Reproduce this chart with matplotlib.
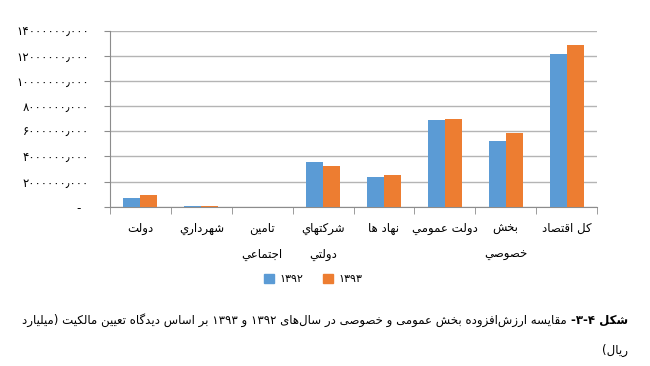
import re
import matplotlib
matplotlib.use('Agg')
import matplotlib.pyplot as plt
from matplotlib.patches import Patch

# data (value added, billion rials)
categories = ['دولت', 'شهرداري', 'تامين\nاجتماعي', 'شركتهاي\nدولتي',
              'نهاد ها', 'دولت عمومي', 'بخش\nخصوصي', 'كل اقتصاد']
v1392 = [0.72e6, 0.08e6, 0.0, 3.55e6, 2.38e6, 6.88e6, 5.19e6, 12.15e6]
v1393 = [0.93e6, 0.09e6, 0.0, 3.25e6, 2.49e6, 6.94e6, 5.85e6, 12.85e6]
series_names = ['۱۳۹۲', '۱۳۹۳']
yticks = [0, 2e6, 4e6, 6e6, 8e6, 10e6, 12e6, 14e6]
caption_bold = 'شکل ۴-۳-'
caption_rest = 'مقایسه ارزش\u200cافزوده بخش عمومی و خصوصی در سال\u200cهای ۱۳۹۲ و ۱۳۹۳ بر اساس دیدگاه تعیین مالکیت (میلیارد'
caption_line2 = 'ریال)'

BLUE = '#5B9BD5'
ORANGE = '#ED7D31'
GRID = '#B4B4B4'
AXIS = '#8C8C8C'

# minimal arabic shaping: isolated, final, initial, medial
FORMS = {
    'ا': (0xFE8D, 0xFE8E, None, None), 'ب': (0xFE8F, 0xFE90, 0xFE91, 0xFE92),
    'ت': (0xFE95, 0xFE96, 0xFE97, 0xFE98), 'ج': (0xFE9D, 0xFE9E, 0xFE9F, 0xFEA0),
    'خ': (0xFEA5, 0xFEA6, 0xFEA7, 0xFEA8), 'د': (0xFEA9, 0xFEAA, None, None),
    'ر': (0xFEAD, 0xFEAE, None, None), 'ز': (0xFEAF, 0xFEB0, None, None),
    'س': (0xFEB1, 0xFEB2, 0xFEB3, 0xFEB4), 'ش': (0xFEB5, 0xFEB6, 0xFEB7, 0xFEB8),
    'ص': (0xFEB9, 0xFEBA, 0xFEBB, 0xFEBC), 'ع': (0xFEC9, 0xFECA, 0xFECB, 0xFECC),
    'ف': (0xFED1, 0xFED2, 0xFED3, 0xFED4), 'ق': (0xFED5, 0xFED6, 0xFED7, 0xFED8),
    'ك': (0xFED9, 0xFEDA, 0xFEDB, 0xFEDC), 'ل': (0xFEDD, 0xFEDE, 0xFEDF, 0xFEE0),
    'م': (0xFEE1, 0xFEE2, 0xFEE3, 0xFEE4), 'ن': (0xFEE5, 0xFEE6, 0xFEE7, 0xFEE8),
    'ه': (0xFEE9, 0xFEEA, 0xFEEB, 0xFEEC), 'و': (0xFEED, 0xFEEE, None, None),
    'ي': (0xFEF1, 0xFEF2, 0xFEF3, 0xFEF4), 'ک': (0xFB8E, 0xFB8F, 0xFB90, 0xFB91),
    'گ': (0xFB92, 0xFB93, 0xFB94, 0xFB95), 'ی': (0xFBFC, 0xFBFD, 0xFBFE, 0xFBFF),
}


def shape(s):
    out = []
    for i, c in enumerate(s):
        if c not in FORMS:
            if c != '\u200c':
                out.append(c)
            continue
        p = s[i - 1] if i > 0 else ''
        n = s[i + 1] if i + 1 < len(s) else ''
        jp = p in FORMS and FORMS[p][2] is not None
        jn = n in FORMS and FORMS[c][2] is not None
        f = FORMS[c]
        if jp and jn:
            code = f[3]
        elif jp:
            code = f[1]
        elif jn:
            code = f[2]
        else:
            code = f[0]
        out.append(chr(code))
    return ''.join(out)


def rtl(s):
    lines = []
    for line in s.split('\n'):
        toks = re.findall(r'[۰-۹]+|.', shape(line))
        mirror = {'(': ')', ')': '('}
        lines.append(''.join(mirror.get(t, t) for t in reversed(toks)))
    return '\n'.join(lines)


def fa_num(v):
    if v == 0:
        return '-  '
    s = '%.3f' % (v)
    s = s.replace('.', '٫')
    return s.translate(str.maketrans('0123456789', '۰۱۲۳۴۵۶۷۸۹'))


plt.rcParams['font.family'] = ['DejaVu Sans']

fig = plt.figure(figsize=(6.5, 3.66), dpi=100)
ax = fig.add_axes([110 / 650, 1 - 206.7 / 366, 487 / 650, (206.7 - 30.7) / 366])

x = list(range(len(categories)))
w = 0.28
ax.bar([i - w / 2 for i in x], v1392, w, color=BLUE, zorder=3)
ax.bar([i + w / 2 for i in x], v1393, w, color=ORANGE, zorder=3)

ax.set_xlim(-0.5, len(categories) - 0.5)
ax.set_ylim(0, 14e6)
ax.set_yticks(yticks)
ax.set_yticklabels([fa_num(v) for v in yticks], fontsize=8.5)
ax.yaxis.grid(True, color=GRID, linewidth=1, zorder=0)

ax.set_xticks(x)
ax.set_xticklabels([rtl(c) for c in categories], fontsize=8.5, linespacing=2.3)
ax.set_xticks([i - 0.5 for i in range(len(categories) + 1)], minor=True)
ax.tick_params(axis='x', which='major', length=0, pad=11)
ax.tick_params(axis='x', which='minor', length=5, color=AXIS)
ax.tick_params(axis='y', length=4, color=AXIS, pad=11)

for side in ['top', 'right']:
    ax.spines[side].set_visible(False)
for side in ['left', 'bottom']:
    ax.spines[side].set_color(AXIS)

handles = [Patch(color=BLUE), Patch(color=ORANGE)]
fig.legend(handles, series_names, loc='center', bbox_to_anchor=(313 / 650, 1 - 279 / 366),
           ncol=2, frameon=False, fontsize=8, handlelength=0.9, handleheight=0.9,
           columnspacing=1.8, handletextpad=0.5)

# caption (right to left), font size fitted to the reference line width
fs = 9.5
r = fig.canvas.get_renderer()
tb = fig.text(628 / 650, 1 - 320 / 366, rtl(caption_bold), fontsize=fs, fontweight='bold',
              ha='right', va='center')
tr = fig.text(0, 1 - 320 / 366, rtl(caption_rest), fontsize=fs, ha='right', va='center')
total = tb.get_window_extent(r).width + 5 + tr.get_window_extent(r).width
fs = fs * 612 / total
tb.set_fontsize(fs)
tr.set_fontsize(fs)
wb = tb.get_window_extent(r).width
tr.set_x((628 - wb - 4) / 650)
fig.text(628 / 650, 1 - 350 / 366, rtl(caption_line2), fontsize=fs, ha='right', va='center')

fig.savefig('out.png', dpi=100)
